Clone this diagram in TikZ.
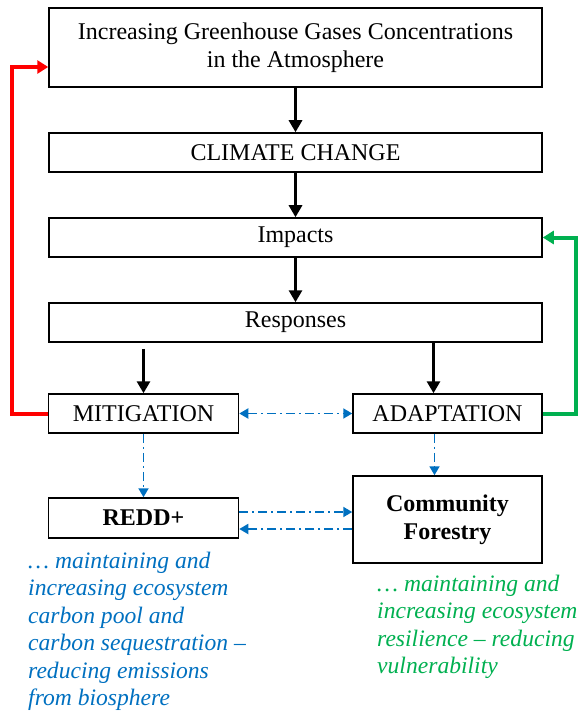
\documentclass[tikz,border=0pt]{standalone}
\usepackage{fontspec}
\setmainfont{Liberation Serif}
\usetikzlibrary{arrows.meta}
\definecolor{redline}{RGB}{255,0,0}
\definecolor{greenline}{RGB}{0,176,80}
\definecolor{blueline}{RGB}{0,112,192}

\begin{document}
\begin{tikzpicture}[x=1pt,y=-1pt]
\tikzstyle{box}=[draw, line width=1.5pt, minimum height=39pt, inner sep=0pt, font=\fontsize{24}{28}\selectfont, align=center]
\tikzstyle{flow}=[-{Triangle[length=12pt,width=13pt]}, line width=3pt]
\tikzstyle{back}=[-{Triangle[length=11pt,width=13pt]}, line width=4pt]
\tikzstyle{link}=[>={Triangle[length=9pt,width=10pt]}, blueline, line width=1.8pt, dash pattern=on 9pt off 4pt on 2pt off 4pt]
\tikzstyle{note}=[anchor=north west, inner sep=0pt, align=left, font=\fontsize{23.6}{27.4}\selectfont\itshape]

\useasboundingbox (0,0) rectangle (581,711);

\node[box, minimum width=493pt, minimum height=79pt] (ghg) at (295.5,47.5) {Increasing Greenhouse Gases Concentrations\\in the Atmosphere};
\node[box, minimum width=493pt] (climate) at (295.5,152.5) {CLIMATE CHANGE};
\node[box, minimum width=493pt] (impacts) at (295.5,237.5) {Impacts};
\node[box, minimum width=493pt] (responses) at (295.5,322.5) {Responses};
\node[box, minimum width=190pt] (mitigation) at (143.5,413.5) {MITIGATION};
\node[box, minimum width=189pt] (adaptation) at (447.5,413.5) {ADAPTATION};
\node[box, minimum width=190pt, minimum height=40pt, font=\fontsize{24}{28}\selectfont\bfseries] (redd) at (143.5,518) {REDD+};
\node[box, minimum width=189pt, minimum height=87pt, font=\fontsize{24}{28}\selectfont\bfseries] (forestry) at (447.5,519.5) {Community\\Forestry};

\draw[flow] (ghg) -- (climate);
\draw[flow] (climate) -- (impacts);
\draw[flow] (impacts) -- (responses);
\draw[flow] ([yshift=-6pt]responses.south -| mitigation) -- (mitigation);
\draw[flow] ([xshift=-14pt]adaptation.north |- responses.south) -- ([xshift=-14pt]adaptation.north);

\draw[back, redline] (mitigation.west) -- ++(-36,0) |- ([yshift=-19.5pt]ghg.west);
\draw[back, greenline] (adaptation.east) -- ++(33,0) |- (impacts.east);

\draw[link, <->] (mitigation) -- (adaptation);
\draw[link, ->] (mitigation) -- (redd);
\draw[link, ->] ([xshift=-13pt]adaptation.south) -- ([xshift=-13pt]forestry.north);
\draw[link, ->] ([yshift=6pt]redd.east) -- ([yshift=6pt]redd.east -| forestry.west);
\draw[link, ->] ([yshift=-11pt]redd.east -| forestry.west) -- ([yshift=-11pt]redd.east);

\node[note, text=blueline] (carbon) at (28,552) {\ldots{} maintaining and\\increasing ecosystem\\carbon pool and\\carbon sequestration --\\reducing emissions\\from biosphere};
\node[note, text=greenline] (resilience) at (377,575) {\ldots{} maintaining and\\increasing ecosystem\\resilience -- reducing\\vulnerability};

\end{tikzpicture}
\end{document}
